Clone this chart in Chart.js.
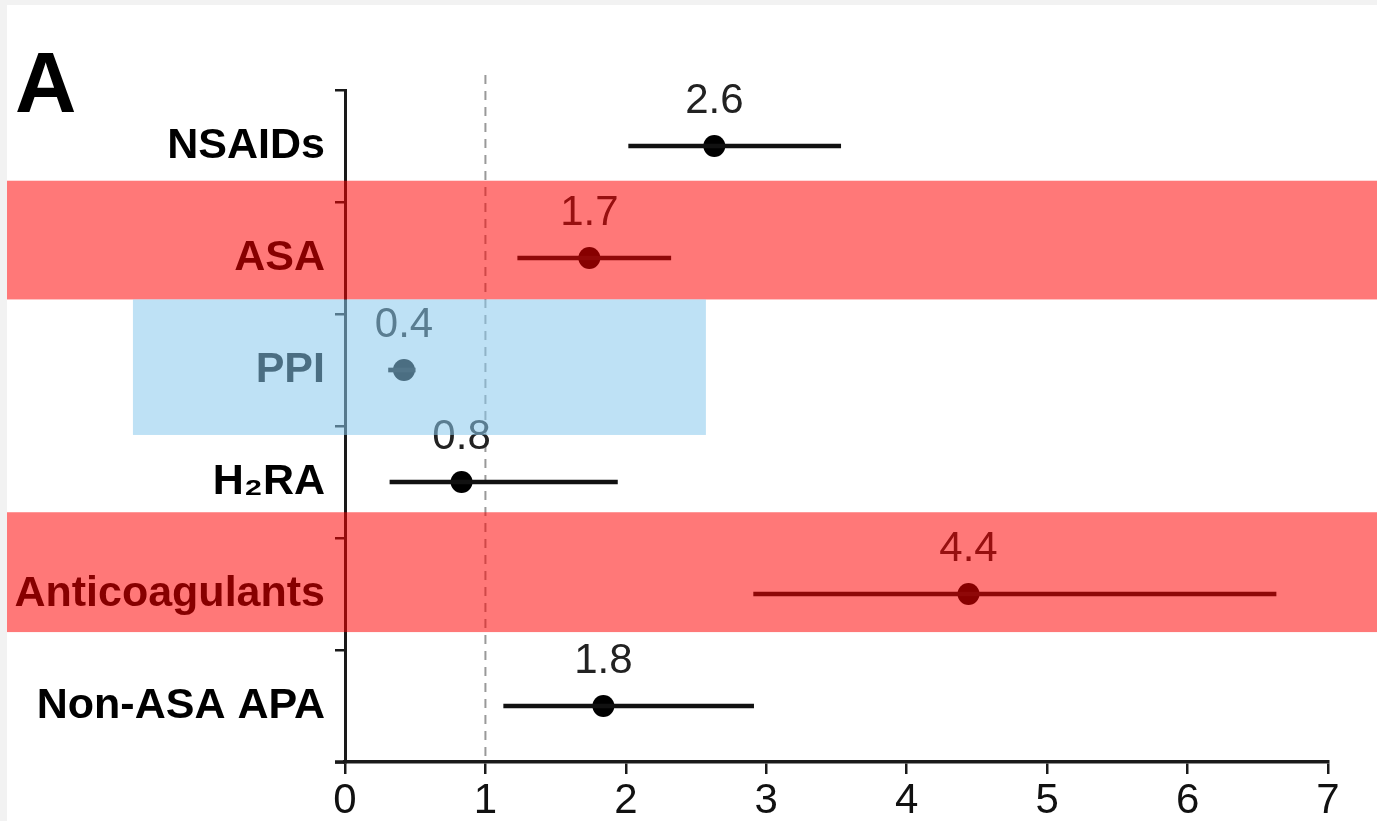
<!DOCTYPE html>
<html>
<head>
<meta charset="utf-8">
<script src="https://cdn.jsdelivr.net/npm/chart.js@4.4.1/dist/chart.umd.min.js"></script>
<style>
    body { margin: 0; background: #f2f2f2; }
    #wrap { position: absolute; left: 7px; top: 5px; width: 1370px; height: 816px; background: #fff; }
</style>
</head>
<body>
<div id="wrap"><canvas id="forestChart"></canvas></div>
<script>
const drugs = ["NSAIDs", "ASA", "PPI", "H₂RA", "Anticoagulants", "Non-ASA APA"];
const estimate = [2.63, 1.74, 0.42, 0.83, 4.44, 1.84];
const ciLow = [2.02, 1.23, 0.31, 0.32, 2.91, 1.13];
const ciHigh = [3.53, 2.32, 0.50, 1.94, 6.63, 2.91];
const valueLabels = ["2.6", "1.7", "0.4", "0.8", "4.4", "1.8"];
const xTicks = [0, 1, 2, 3, 4, 5, 6, 7];

const FONT = '"Liberation Sans", Arial, Helvetica, sans-serif';

// reference line, value labels, highlight overlays and panel letter
const forestExtras = {
    id: 'forestExtras',
    beforeDatasetsDraw(chart, args, opts) {
        const { ctx, chartArea, scales } = chart;
        const x = scales.x.getPixelForValue(opts.refValue);
        ctx.save();
        ctx.strokeStyle = '#999';
        ctx.lineWidth = 2;
        ctx.setLineDash([9, 7]);
        ctx.beginPath();
        ctx.moveTo(x, chartArea.top - 15);
        ctx.lineTo(x, chartArea.bottom);
        ctx.stroke();
        ctx.restore();
    },
    afterDraw(chart, args, opts) {
        const { ctx, scales, chartArea, width } = chart;
        ctx.save();

        // x axis runs a little past the y axis, as in the original
        ctx.strokeStyle = '#1a1a1a';
        ctx.lineWidth = 3.5;
        ctx.beginPath();
        ctx.moveTo(chartArea.left - 10, chartArea.bottom);
        ctx.lineTo(chartArea.left, chartArea.bottom);
        ctx.stroke();

        ctx.font = '42px ' + FONT;
        ctx.fillStyle = '#222';
        ctx.textAlign = 'center';
        ctx.textBaseline = 'alphabetic';
        drugs.forEach((d, i) => {
            const px = scales.x.getPixelForValue(estimate[i]);
            const py = scales.y.getPixelForValue(i);
            ctx.fillText(valueLabels[i], px, py - 33);
        });

        opts.rows.forEach(r => {
            const idx = drugs.indexOf(r.row);
            const top = scales.y.getPixelForValue(idx + r.from);
            const bottom = scales.y.getPixelForValue(idx + r.to);
            const left = r.xFrom == null ? 0 : scales.x.getPixelForValue(r.xFrom);
            const right = r.xTo == null ? width : scales.x.getPixelForValue(r.xTo);
            ctx.fillStyle = r.color;
            ctx.fillRect(left, top, right - left, bottom - top);
        });

        ctx.font = 'bold 85px ' + FONT;
        ctx.fillStyle = '#000';
        ctx.textAlign = 'left';
        ctx.fillText('A', 8, 107);
        ctx.restore();
    }
};

new Chart(document.getElementById('forestChart'), {
    type: 'bar',
    data: {
        labels: drugs,
        datasets: [{
            type: 'bar',
            data: drugs.map((d, i) => [ciLow[i], ciHigh[i]]),
            backgroundColor: '#111',
            barThickness: 4,
            borderWidth: 0
        }, {
            type: 'line',
            data: estimate,
            showLine: false,
            pointRadius: 11,
            pointBackgroundColor: '#000',
            pointBorderWidth: 0
        }]
    },
    options: {
        indexAxis: 'y',
        responsive: true,
        maintainAspectRatio: false,
        animation: false,
        layout: { padding: { top: 85, right: 49, left: 0, bottom: 0 } },
        scales: {
            x: {
                type: 'linear',
                position: 'bottom',
                min: 0,
                max: 7,
                afterBuildTicks: (s) => { s.ticks = xTicks.map(v => ({ value: v })); },
                afterFit: (s) => { s.height = 59; },
                ticks: {
                    font: { family: FONT, size: 42 },
                    color: '#111',
                    padding: 2
                },
                grid: { drawOnChartArea: false, tickLength: 12, color: '#1a1a1a', lineWidth: 2.5 },
                border: { color: '#1a1a1a', width: 3.5 }
            },
            y: {
                type: 'category',
                offset: true,
                afterFit: (s) => { s.width = 338; },
                ticks: {
                    font: { family: FONT, size: 43, weight: 'bold' },
                    color: '#000',
                    padding: 10
                },
                grid: { offset: true, drawOnChartArea: false, tickLength: 10, color: '#1a1a1a', lineWidth: 2.5 },
                border: { color: '#1a1a1a', width: 3 }
            }
        },
        plugins: {
            legend: { display: false },
            tooltip: { enabled: false },
            forestExtras: {
                refValue: 1,
                rows: [
                    { row: 'ASA', from: -0.69, to: 0.37, color: 'rgba(255,0,0,0.53)' },
                    { row: 'PPI', from: -0.63, to: 0.58, xFrom: -1.51, xTo: 2.57, color: 'rgba(137,200,237,0.55)' },
                    { row: 'Anticoagulants', from: -0.73, to: 0.34, color: 'rgba(255,0,0,0.53)' }
                ]
            }
        }
    },
    plugins: [forestExtras]
});
</script>
</body>
</html>
